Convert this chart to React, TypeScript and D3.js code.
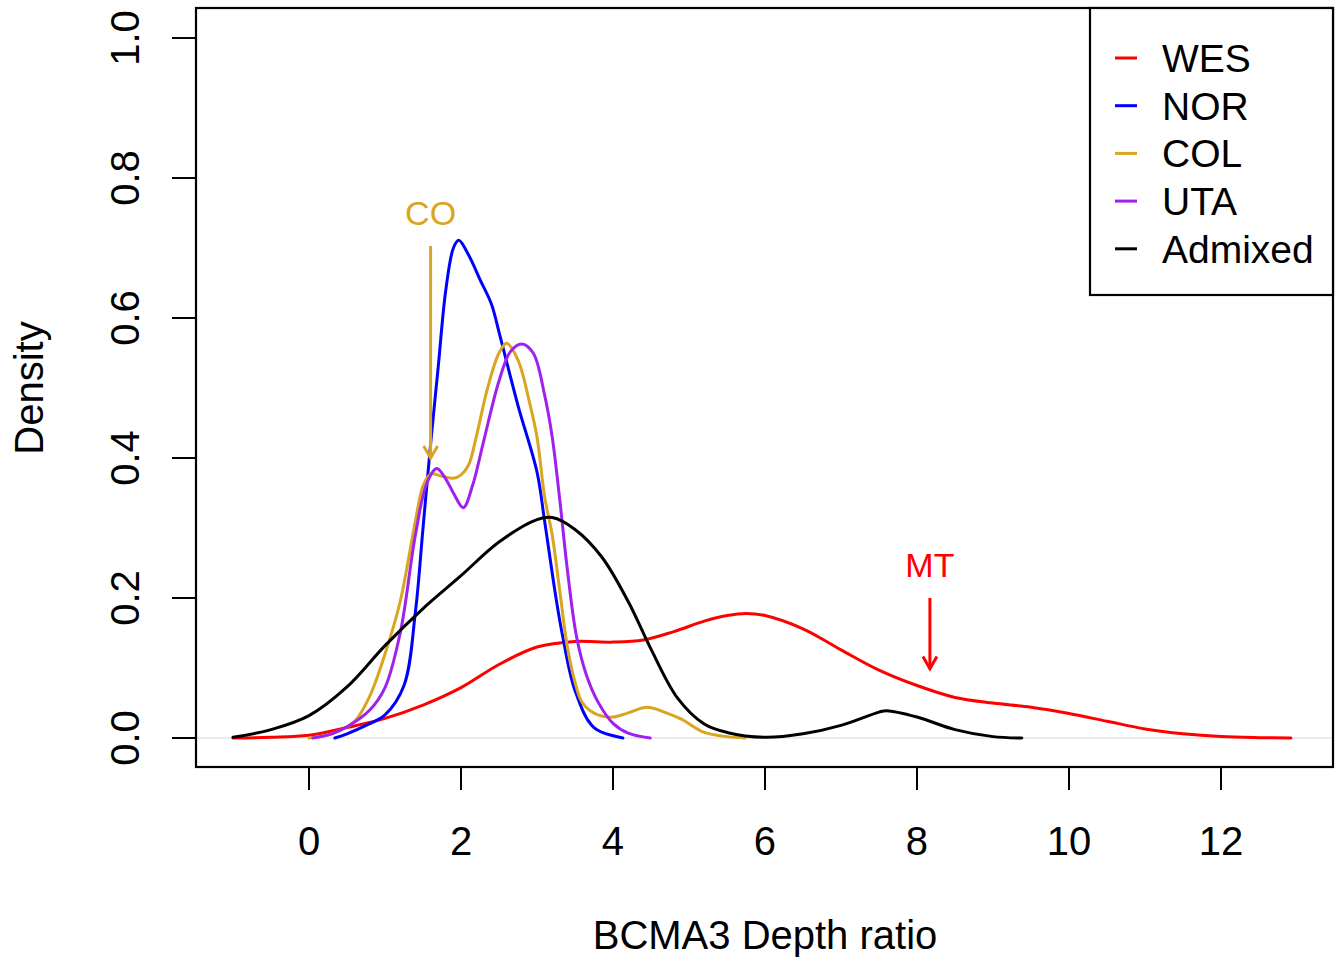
import React from "react";
import * as d3 from "d3";

const seriesNames = ["WES", "NOR", "COL", "UTA", "Admixed"];
const seriesColors = ["#FF0000", "#0000FF", "#DAA520", "#A020F0", "#000000"];

const wesX = [-1.0, -0.5, 0, 0.5, 1.0, 1.5, 2.0, 2.5, 3.0, 3.5, 4.0, 4.4, 4.8, 5.2, 5.5, 5.75, 6.0, 6.5, 7.0, 7.5, 8.0, 8.5, 9.0, 9.5, 10.0, 10.5, 11.0, 11.5, 12.0, 12.5, 12.92];
const wesY = [0, 0.001, 0.004, 0.015, 0.028, 0.047, 0.072, 0.105, 0.13, 0.138, 0.137, 0.14, 0.152, 0.167, 0.175, 0.178, 0.175, 0.156, 0.126, 0.097, 0.075, 0.058, 0.05, 0.044, 0.035, 0.024, 0.013, 0.006, 0.002, 0.0005, 0];

const norX = [0.34, 0.5, 0.75, 1.0, 1.25, 1.4, 1.5, 1.6, 1.7, 1.8, 1.9, 1.97, 2.1, 2.25, 2.4, 2.5, 2.75, 3.0, 3.1, 3.25, 3.34, 3.5, 3.75, 4.13];
const norY = [0, 0.006, 0.018, 0.033, 0.075, 0.18, 0.3, 0.42, 0.53, 0.64, 0.7, 0.711, 0.69, 0.655, 0.62, 0.58, 0.475, 0.38, 0.31, 0.2, 0.144, 0.068, 0.015, 0];

const colX = [0.0, 0.3, 0.6, 0.8, 1.0, 1.2, 1.4, 1.5, 1.6, 1.75, 1.9, 2.0, 2.1, 2.2, 2.35, 2.5, 2.6, 2.75, 2.9, 3.0, 3.1, 3.2, 3.3, 3.4, 3.5, 3.6, 3.8, 4.0, 4.2, 4.45, 4.7, 4.9, 5.2, 5.5, 5.74];
const colY = [0, 0.006, 0.024, 0.06, 0.12, 0.195, 0.31, 0.36, 0.377, 0.374, 0.371, 0.376, 0.39, 0.43, 0.5, 0.55, 0.564, 0.54, 0.48, 0.43, 0.345, 0.29, 0.21, 0.13, 0.08, 0.05, 0.033, 0.03, 0.036, 0.044, 0.036, 0.027, 0.008, 0.002, 0];

const utaX = [0.05, 0.3, 0.5, 0.8, 1.0, 1.2, 1.4, 1.55, 1.68, 1.8, 1.9, 2.03, 2.15, 2.3, 2.5, 2.65, 2.8, 2.95, 3.1, 3.2, 3.3, 3.4, 3.52, 3.65, 3.8, 4.0, 4.2, 4.49];
const utaY = [0, 0.006, 0.016, 0.04, 0.072, 0.15, 0.29, 0.364, 0.385, 0.37, 0.35, 0.329, 0.36, 0.425, 0.51, 0.552, 0.563, 0.55, 0.49, 0.43, 0.34, 0.24, 0.145, 0.09, 0.052, 0.021, 0.007, 0];

const admX = [-1.0, -0.5, 0, 0.5, 1.0, 1.5, 2.0, 2.5, 3.0, 3.2, 3.5, 3.85, 4.2, 4.5, 4.85, 5.2, 5.5, 6.0, 6.5, 7.0, 7.5, 7.6, 8.0, 8.5, 9.0, 9.38];
const admY = [0.001, 0.012, 0.032, 0.073, 0.132, 0.185, 0.232, 0.28, 0.312, 0.315, 0.298, 0.259, 0.195, 0.127, 0.057, 0.02, 0.008, 0.001, 0.006, 0.018, 0.037, 0.039, 0.03, 0.012, 0.002, 0];

const xTicks = [0, 2, 4, 6, 8, 10, 12];
const yTicks = [0, 0.2, 0.4, 0.6, 0.8, 1.0];
const yTickLabels = ["0.0", "0.2", "0.4", "0.6", "0.8", "1.0"];

const annotations = [
  { label: "CO", x: 1.6, yText: 0.75, yFrom: 0.703, yTo: 0.4, color: "#DAA520" },
  { label: "MT", x: 8.17, yText: 0.248, yFrom: 0.2, yTo: 0.099, color: "#FF0000" },
];

const W = 1342;
const H = 960;
const FONT = "'Liberation Sans', Arial, Helvetica, sans-serif";

export default function App() {
  const left = 196, right = 1333, top = 8, bottom = 767;
  const x = d3.scaleLinear().domain([-1.487, 13.474]).range([left, right]);
  const y = d3.scaleLinear().domain([-0.0414, 1.0429]).range([bottom, top]);

  const series = [
    { xs: wesX, ys: wesY },
    { xs: norX, ys: norY },
    { xs: colX, ys: colY },
    { xs: utaX, ys: utaY },
    { xs: admX, ys: admY },
  ];

  const line = d3
    .line<[number, number]>()
    .x((d) => x(d[0]))
    .y((d) => y(d[1]))
    .curve(d3.curveCatmullRom.alpha(0.5));

  const fs = 40;
  const arrowLen = 14;
  const ang = (30 * Math.PI) / 180;

  return (
    <svg width={W} height={H} style={{ position: "absolute", left: 0, top: 0, background: "#fff" }} fontFamily={FONT}>
      <rect x={0} y={0} width={W} height={H} fill="#fff" />
      <line x1={left} x2={right} y1={y(0)} y2={y(0)} stroke="#d8d8d8" strokeWidth={1} />
      {series.map((s, i) => (
        <path
          key={seriesNames[i]}
          d={line(s.xs.map((v, j) => [v, s.ys[j]] as [number, number])) || ""}
          fill="none"
          stroke={seriesColors[i]}
          strokeWidth={3}
          strokeLinejoin="round"
          strokeLinecap="round"
        />
      ))}
      <rect x={left} y={top} width={right - left} height={bottom - top} fill="none" stroke="#000" strokeWidth={2.2} />
      {xTicks.map((t) => (
        <g key={"xt" + t}>
          <line x1={x(t)} x2={x(t)} y1={bottom} y2={bottom + 23} stroke="#000" strokeWidth={2} />
          <text x={x(t)} y={841} dy="0.36em" textAnchor="middle" fontSize={fs} fill="#000">
            {t}
          </text>
        </g>
      ))}
      {yTicks.map((t, i) => (
        <g key={"yt" + t}>
          <line x1={left - 24} x2={left} y1={y(t)} y2={y(t)} stroke="#000" strokeWidth={2} />
          <text
            transform={`translate(125,${y(t)}) rotate(-90)`}
            dy="0.36em"
            textAnchor="middle"
            fontSize={fs}
            fill="#000"
          >
            {yTickLabels[i]}
          </text>
        </g>
      ))}
      <text x={765} y={935} dy="0.36em" textAnchor="middle" fontSize={fs} fill="#000">
        BCMA3 Depth ratio
      </text>
      <text transform={`translate(29,388) rotate(-90)`} dy="0.36em" textAnchor="middle" fontSize={fs} fill="#000">
        Density
      </text>
      {annotations.map((a) => {
        const ax = x(a.x);
        const ty = y(a.yTo);
        return (
          <g key={a.label}>
            <text x={ax} y={y(a.yText)} dy="0.36em" textAnchor="middle" fontSize={34} fill={a.color}>
              {a.label}
            </text>
            <line x1={ax} x2={ax} y1={y(a.yFrom)} y2={ty} stroke={a.color} strokeWidth={3} />
            <polyline
              points={`${ax - arrowLen * Math.sin(ang)},${ty - arrowLen * Math.cos(ang)} ${ax},${ty} ${ax + arrowLen * Math.sin(ang)},${ty - arrowLen * Math.cos(ang)}`}
              fill="none"
              stroke={a.color}
              strokeWidth={3}
            />
          </g>
        );
      })}
      <rect x={1090} y={top} width={right - 1090} height={295 - top} fill="#fff" stroke="#000" strokeWidth={2.2} />
      {seriesNames.map((n, i) => {
        const ry = 58 + i * 47.7;
        return (
          <g key={"lg" + n}>
            <line x1={1115} x2={1137} y1={ry} y2={ry} stroke={seriesColors[i]} strokeWidth={3} />
            <text x={1162} y={ry} dy="0.36em" fontSize={39} fill="#000">
              {n}
            </text>
          </g>
        );
      })}
    </svg>
  );
}
